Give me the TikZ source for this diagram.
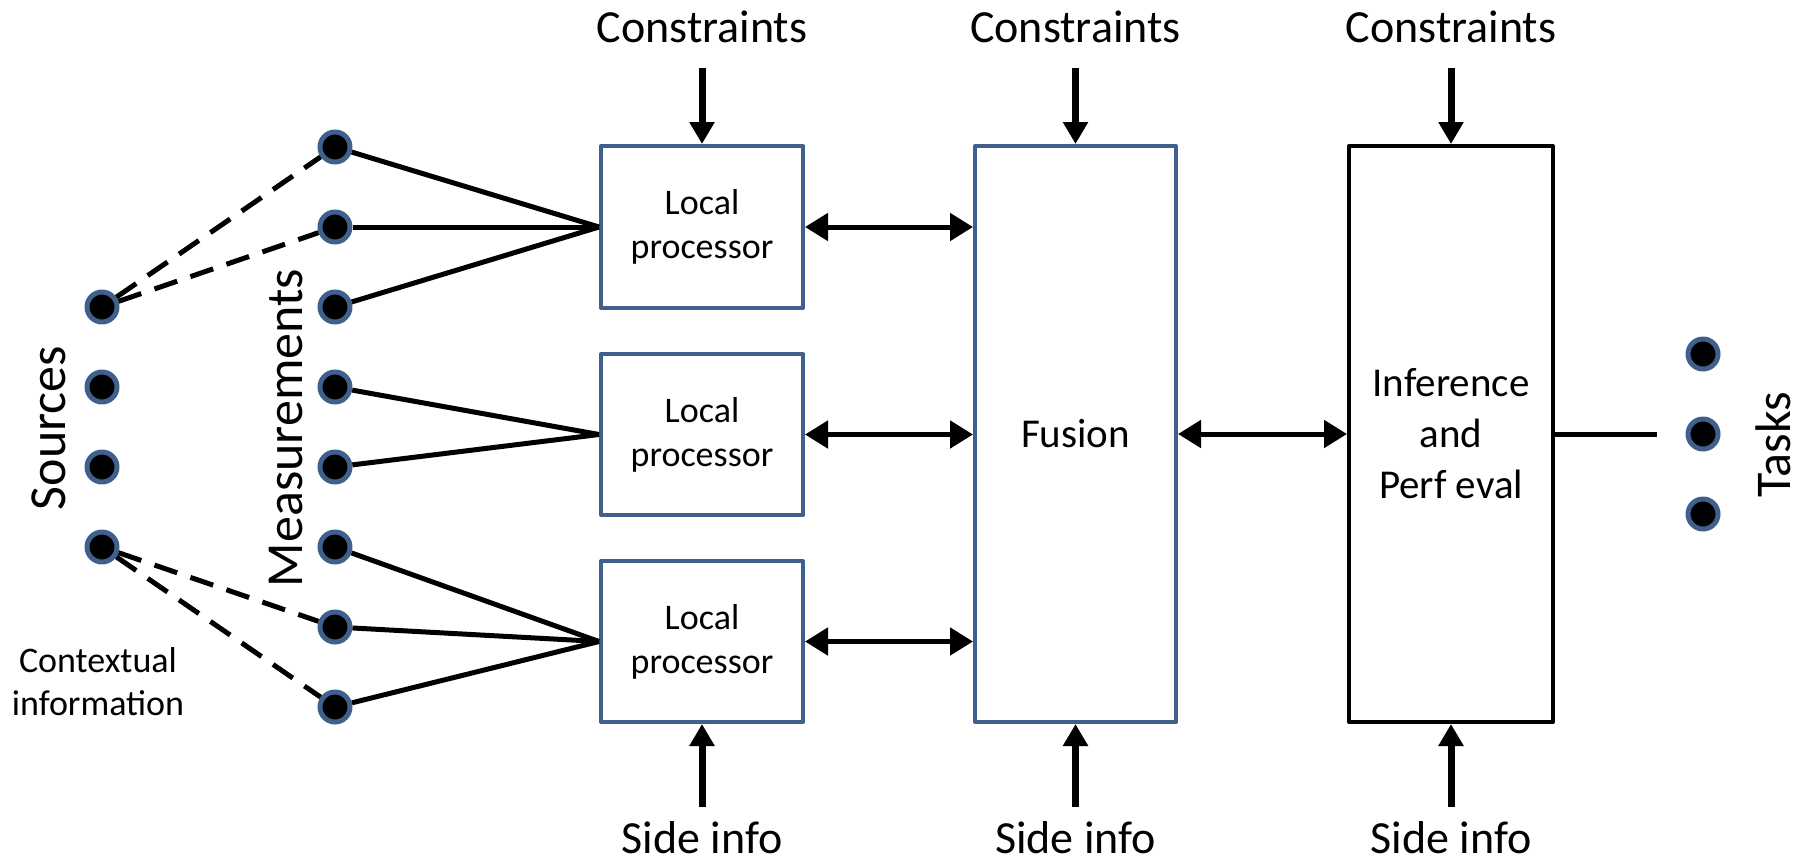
\documentclass[tikz,border=0pt]{standalone}
\usepackage{fontspec}
\setmainfont{Carlito}
\usetikzlibrary{arrows.meta}

\definecolor{boxblue}{RGB}{63,95,140}

\begin{document}
\begin{tikzpicture}[x=1pt, y=-1pt, line join=round,
  dot/.style={circle, draw=boxblue, fill=black, line width=5pt, minimum size=30pt, inner sep=0pt},
  procbox/.style={rectangle, draw=boxblue, line width=4pt, minimum width=202pt, align=center, inner sep=0pt},
  link/.style={line width=5pt},
  ctxlink/.style={line width=5pt, dash pattern=on 24pt off 14pt},
  biarrow/.style={line width=5pt, {Triangle[length=23pt,width=27pt]}-{Triangle[length=23pt,width=27pt]}},
  inarrow/.style={line width=7pt, -{Triangle[length=22pt,width=24pt]}},
  lbl/.style={font=\fontsize{46}{55}\selectfont, inner sep=0pt, anchor=base},
  sidelbl/.style={font=\fontsize{52}{62}\selectfont, inner sep=0pt, rotate=90, anchor=base}]

\useasboundingbox (0,0) rectangle (1806,863);

% sources, measurements and tasks
\foreach \y [count=\i] in {307,387,...,547} \node[dot] (s\i) at (102,\y) {};
\foreach \y [count=\i] in {147,227,...,707} \node[dot] (m\i) at (335,\y) {};
\foreach \y [count=\i] in {354,434,514} \node[dot] (t\i) at (1703,\y) {};

\node[sidelbl] (sources) at (65,428) {Sources};
\node[sidelbl] (meas) at (302,428) {Measurements};
\node[sidelbl, font=\fontsize{50}{60}\selectfont] (tasks) at (1790,445) {Tasks};
\node[font=\fontsize{36}{43}\selectfont, align=center, inner sep=0pt] (ctx) at (98,682) {Contextual\\information};

% processing blocks
\begin{scope}[font=\fontsize{36}{44}\selectfont]
  \node[procbox, minimum height=162pt] (lp1) at (702,227) {Local\\processor};
  \node[procbox, minimum height=161pt] (lp2) at (702,434.5) {Local\\processor};
  \node[procbox, minimum height=161pt] (lp3) at (702,641.5) {Local\\processor};
\end{scope}
\begin{scope}[font=\fontsize{41}{51}\selectfont]
  \node[procbox, minimum width=201pt, minimum height=576pt] (fusion) at (1075.5,434) {Fusion};
  \node[procbox, draw=black, minimum width=204pt, minimum height=576pt] (infer) at (1451,434) {Inference\\and\\Perf eval};
\end{scope}

% measurements into the local processors
\foreach \i in {1,2,3} \draw[link] (m\i) -- (lp1.west);
\foreach \i in {4,5} \draw[link] (m\i) -- (lp2.west);
\foreach \i in {6,7,8} \draw[link] (m\i) -- (lp3.west);

% contextual links
\draw[ctxlink] (s1) -- (m1);
\draw[ctxlink] (s1) -- (m2);
\draw[ctxlink] (s4) -- (m7);
\draw[ctxlink] (s4) -- (m8);

% exchange with the fusion block
\foreach \b in {lp1,lp2,lp3} \draw[biarrow] (\b.east) -- (\b.east -| fusion.west);
\draw[biarrow] (fusion.east) -- (infer.west);

\coordinate (tasksend) at (1657,434);
\draw[link] (infer.east) -- (tasksend);

% constraints from above, side info from below
\foreach \b/\n in {lp1/1,fusion/2,infer/3} {
  \node[lbl] (con\n) at (\b.north |- 0,42) {Constraints};
  \node[lbl] (side\n) at (\b.south |- 0,853) {Side info};
}
\draw[inarrow] ([yshift=-25pt]con1.south) -- (lp1.north);
\draw[inarrow] ([yshift=-25pt]con2.south) -- (fusion.north);
\draw[inarrow] ([yshift=-25pt]con3.south) -- (infer.north);
\draw[inarrow] ([yshift=14pt]side1.north) -- (lp3.south);
\draw[inarrow] ([yshift=14pt]side2.north) -- (fusion.south);
\draw[inarrow] ([yshift=14pt]side3.north) -- (infer.south);

\end{tikzpicture}
\end{document}
